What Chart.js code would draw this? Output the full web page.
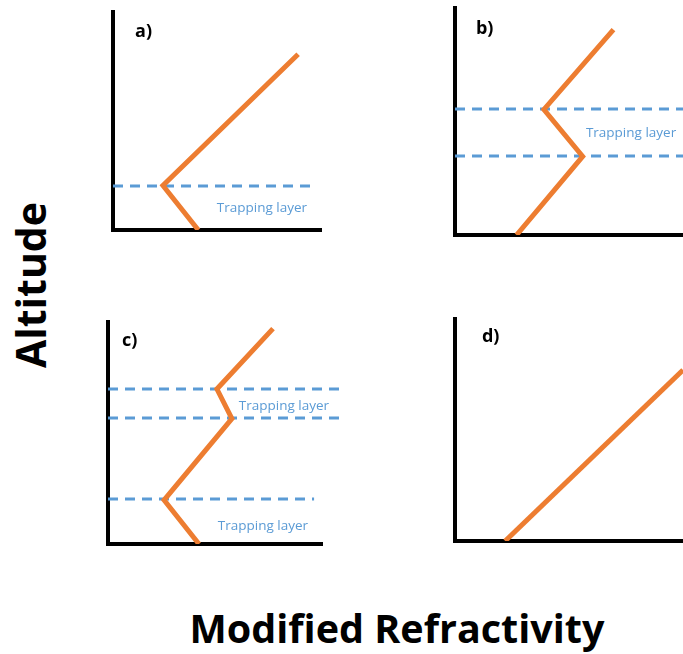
<!DOCTYPE html>
<html>
<head>
<meta charset="utf-8">
<script src="https://cdn.jsdelivr.net/npm/chart.js@4/dist/chart.umd.min.js"></script>
<style>
  html, body { margin: 0; padding: 0; background: #fff; overflow: hidden; }
  body { width: 683px; height: 654px; position: relative; }
  canvas { position: absolute; }
  .big { position: absolute; font-family: "Open Sans", sans-serif; font-weight: bold; color: #000; white-space: nowrap; }
  #ylab { left: 30px; top: 285px; font-size: 41px; transform: translate(-50%, -50%) rotate(-90deg); }
  #xlab { left: 397px; top: 628px; font-size: 39.5px; transform: translate(-50%, -50%); }
</style>
</head>
<body>
<canvas id="pa"></canvas>
<canvas id="pb"></canvas>
<canvas id="pc"></canvas>
<canvas id="pd"></canvas>
<div class="big" id="ylab">Altitude</div>
<div class="big" id="xlab">Modified Refractivity</div>
<script>
// profiles, axes run 0..100 in each panel
const aRefractivity = [41, 24, 89];
const aAltitude = [0, 20.4, 80.6];
const aLayerAlt = [20.2];
const aLayerEnd = [96];

const bRefractivity = [27, 56, 39, 69.5];
const bAltitude = [0, 34.6, 55.3, 90.5];
const bLayerAlt = [55.5, 34.8];
const bLayerEnd = [100, 100];

const cRefractivity = [42.5, 26.2, 57.9, 50.9, 77.1];
const cAltitude = [0, 19.8, 56.5, 69.8, 97];
const cLayerAlt = [69.8, 56.8, 20.3];
const cLayerEnd = [111, 111, 96.3];

const dRefractivity = [22, 100];
const dAltitude = [0, 77];

const ORANGE = "#ED7D31";
const BLUE = "#5B9BD5";

function profile(xs, ys) {
  return {
    data: xs.map((x, i) => ({ x: x, y: ys[i] })),
    showLine: true,
    borderColor: ORANGE,
    borderWidth: 5,
    borderJoinStyle: "miter",
    pointRadius: 0,
    order: 0
  };
}

function layers(alts, ends) {
  return alts.map((y, i) => ({
    data: [{ x: 0, y: y }, { x: ends[i], y: y }],
    showLine: true,
    borderColor: BLUE,
    borderWidth: 3,
    borderDash: [10, 7],
    pointRadius: 0,
    clip: false,
    order: 1
  }));
}

// text written at data coords
const textPlugin = {
  id: "texts",
  afterDatasetsDraw(chart, args, opts) {
    const ctx = chart.ctx;
    const xs = chart.scales.x, ys = chart.scales.y;
    ctx.save();
    ctx.textBaseline = "middle";
    (opts.items || []).forEach(t => {
      ctx.font = t.font;
      ctx.fillStyle = t.color;
      ctx.textAlign = t.align;
      ctx.fillText(t.text, xs.getPixelForValue(t.x), ys.getPixelForValue(t.y));
    });
    ctx.restore();
  }
};

function panel(id, box, datasets, items) {
  const cv = document.getElementById(id);
  const pad = box.pad;
  cv.width = box.w + pad.left + pad.right;
  cv.height = box.h + pad.top + pad.bottom;
  cv.style.left = (box.x - pad.left) + "px";
  cv.style.top = (box.y - pad.top) + "px";
  const axis = {
    type: "linear", min: 0, max: 100,
    grid: { display: false, drawTicks: false },
    ticks: { display: false },
    border: { display: true, color: "#000", width: 4 }
  };
  return new Chart(cv, {
    type: "scatter",
    data: { datasets: datasets },
    options: {
      responsive: false,
      animation: false,
      layout: { padding: pad },
      scales: { x: Object.assign({ position: "bottom" }, axis), y: Object.assign({ position: "left" }, axis) },
      plugins: { legend: { display: false }, tooltip: { enabled: false }, texts: { items: items } }
    },
    plugins: [textPlugin]
  });
}

const LABEL_FONT = "bold 18px 'Open Sans'";
const LAYER_FONT = "13.5px 'Open Sans'";
const P = { top: 6, bottom: 6, left: 6, right: 6 };

panel("pa", { x: 113, y: 12, w: 208, h: 218, pad: P },
  [profile(aRefractivity, aAltitude)].concat(layers(aLayerAlt, aLayerEnd)),
  [{ text: "a)", x: 10.6, y: 91, font: LABEL_FONT, color: "#000", align: "left" },
   { text: "Trapping layer", x: 71.6, y: 10.1, font: LAYER_FONT, color: BLUE, align: "center" }]);

panel("pb", { x: 455, y: 8, w: 228, h: 227, pad: P },
  [profile(bRefractivity, bAltitude)].concat(layers(bLayerAlt, bLayerEnd)),
  [{ text: "b)", x: 9.2, y: 90.7, font: LABEL_FONT, color: "#000", align: "left" },
   { text: "Trapping layer", x: 77.2, y: 44.9, font: LAYER_FONT, color: BLUE, align: "center" }]);

panel("pc", { x: 108, y: 322, w: 214, h: 222, pad: { top: 6, bottom: 6, left: 6, right: 34 } },
  [profile(cRefractivity, cAltitude)].concat(layers(cLayerAlt, cLayerEnd)),
  [{ text: "c)", x: 6.5, y: 91.4, font: LABEL_FONT, color: "#000", align: "left" },
   { text: "Trapping layer", x: 82.2, y: 62.2, font: LAYER_FONT, color: BLUE, align: "center" },
   { text: "Trapping layer", x: 72.4, y: 8.1, font: LAYER_FONT, color: BLUE, align: "center" }]);

panel("pd", { x: 455, y: 319, w: 228, h: 222, pad: P },
  [profile(dRefractivity, dAltitude)],
  [{ text: "d)", x: 11.8, y: 91.9, font: LABEL_FONT, color: "#000", align: "left" }]);
</script>
</body>
</html>
